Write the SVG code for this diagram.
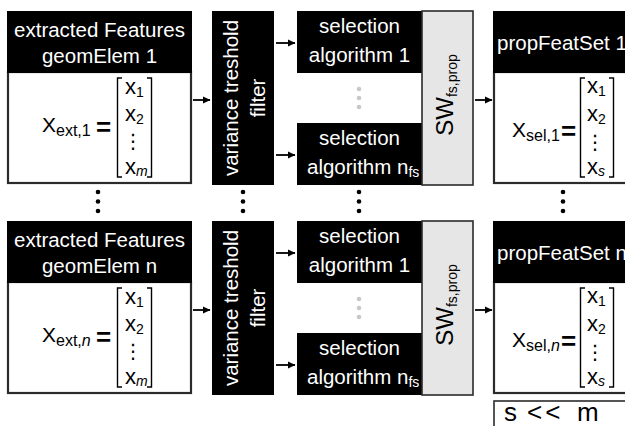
<svg xmlns="http://www.w3.org/2000/svg" width="625" height="426" viewBox="0 0 625 426">
  <defs>
    <marker id="ah" markerUnits="userSpaceOnUse" markerWidth="8" markerHeight="8" refX="7" refY="4" orient="auto">
      <path d="M0,0.6 L7.5,4 L0,7.4 z" fill="#000"/>
    </marker>
    <style>
      text { font-family: "Liberation Sans", Arial, sans-serif; }
      .hdr { fill: #000; }
      .body { fill: #fff; stroke: #2b2b2b; stroke-width: 2.2; }
      .sw { fill: #e6e6e6; stroke: #2b2b2b; stroke-width: 1.6; }
      .lbl { font-size: 20.5px; fill: #fff; }
      .mx { font-size: 21px; fill: #000; }
      .ent { font-size: 22px; fill: #000; }
      .sub { font-size: 16px; }
      .esub { font-size: 14px; }
      .eq { font-size: 26px; font-weight: bold; fill: #000; }
      .vd { font-family: "DejaVu Sans", sans-serif; font-size: 20px; fill: #000; }
      .brk { fill: none; stroke: #000; stroke-width: 1.4; }
      .dot { fill: #000; }
      .gdot { fill: #c8c8c8; }
      .conn line { stroke: #000; stroke-width: 1.8; marker-end: url(#ah); }
    </style>
  </defs>

  <rect width="625" height="426" fill="#fff"/>

  <!-- ===== upper chain ===== -->
  <g id="feat1">
    <rect class="body" x="8" y="72" width="183" height="111"/>
    <rect class="hdr" x="7" y="11" width="185" height="62"/>
    <text class="lbl" x="99.5" y="37" text-anchor="middle">extracted Features</text>
    <text class="lbl" x="99.5" y="63" text-anchor="middle">geomElem 1</text>
    <text class="mx" x="42" y="132">X<tspan class="sub" dy="4">ext,1</tspan></text>
    <text class="eq" x="96" y="136">=</text>
    <path class="brk" d="M122,78 H117.5 V177 H122 M147,78 H151.5 V177 H147"/>
    <text class="ent" x="125" y="94">x<tspan class="esub" dy="3">1</tspan></text>
    <text class="ent" x="125" y="121">x<tspan class="esub" dy="3">2</tspan></text>
    <text class="vd" x="133" y="148" text-anchor="middle">⋮</text>
    <text class="ent" x="125" y="174">x<tspan class="esub" dy="2" font-style="italic">m</tspan></text>
  </g>

  <g id="filter1">
    <rect class="hdr" x="212" y="11" width="62" height="174"/>
    <text class="lbl" transform="translate(238,98) rotate(-90)" text-anchor="middle">variance treshold</text>
    <text class="lbl" transform="translate(265,98) rotate(-90)" text-anchor="middle">filter</text>
  </g>

  <g id="sel1a">
    <rect class="hdr" x="297" y="11" width="125" height="62"/>
    <text class="lbl" x="359.5" y="33" text-anchor="middle">selection</text>
    <text class="lbl" x="359.5" y="62" text-anchor="middle">algorithm 1</text>
  </g>

  <g id="sel1b">
    <rect class="hdr" x="297" y="123" width="125" height="62"/>
    <text class="lbl" x="359.5" y="145" text-anchor="middle">selection</text>
    <text class="lbl" x="307" y="174">algorithm n<tspan class="esub" dy="3">fs</tspan></text>
  </g>

  <g id="sw1">
    <rect class="sw" x="422" y="11" width="51" height="174"/>
    <text transform="translate(453,95) rotate(-90)" text-anchor="middle" font-size="24" fill="#000">SW<tspan font-size="14" dy="4">fs,prop</tspan></text>
  </g>

  <g id="prop1">
    <rect class="body" x="494" y="72" width="150" height="111"/>
    <rect class="hdr" x="493" y="11" width="150" height="62"/>
    <text class="lbl" x="497" y="50">propFeatSet 1</text>
    <text class="mx" x="512" y="137">X<tspan class="sub" dy="4">sel,1</tspan></text>
    <text class="eq" x="561" y="140">=</text>
    <path class="brk" d="M585,78 H580.5 V177 H585 M609,78 H613.5 V177 H609"/>
    <text class="ent" x="587" y="93">x<tspan class="esub" dy="3">1</tspan></text>
    <text class="ent" x="587" y="121">x<tspan class="esub" dy="3">2</tspan></text>
    <text class="vd" x="595" y="149" text-anchor="middle">⋮</text>
    <text class="ent" x="587" y="174">x<tspan class="esub" dy="2" font-style="italic">s</tspan></text>
  </g>

  <!-- ===== lower chain ===== -->
  <g id="featN">
    <rect class="body" x="8" y="282" width="183" height="111"/>
    <rect class="hdr" x="7" y="221" width="185" height="62"/>
    <text class="lbl" x="99.5" y="247" text-anchor="middle">extracted Features</text>
    <text class="lbl" x="99.5" y="273" text-anchor="middle">geomElem n</text>
    <text class="mx" x="42" y="342">X<tspan class="sub" dy="4">ext,<tspan font-style="italic">n</tspan></tspan></text>
    <text class="eq" x="96" y="346">=</text>
    <path class="brk" d="M122,288 H117.5 V387 H122 M147,288 H151.5 V387 H147"/>
    <text class="ent" x="125" y="304">x<tspan class="esub" dy="3">1</tspan></text>
    <text class="ent" x="125" y="331">x<tspan class="esub" dy="3">2</tspan></text>
    <text class="vd" x="133" y="358" text-anchor="middle">⋮</text>
    <text class="ent" x="125" y="384">x<tspan class="esub" dy="2" font-style="italic">m</tspan></text>
  </g>

  <g id="filterN">
    <rect class="hdr" x="212" y="221" width="62" height="174"/>
    <text class="lbl" transform="translate(238,308) rotate(-90)" text-anchor="middle">variance treshold</text>
    <text class="lbl" transform="translate(265,308) rotate(-90)" text-anchor="middle">filter</text>
  </g>

  <g id="selNa">
    <rect class="hdr" x="297" y="221" width="125" height="62"/>
    <text class="lbl" x="359.5" y="243" text-anchor="middle">selection</text>
    <text class="lbl" x="359.5" y="272" text-anchor="middle">algorithm 1</text>
  </g>

  <g id="selNb">
    <rect class="hdr" x="297" y="333" width="125" height="62"/>
    <text class="lbl" x="359.5" y="355" text-anchor="middle">selection</text>
    <text class="lbl" x="307" y="384">algorithm n<tspan class="esub" dy="3">fs</tspan></text>
  </g>

  <g id="swN">
    <rect class="sw" x="422" y="221" width="51" height="174"/>
    <text transform="translate(453,305) rotate(-90)" text-anchor="middle" font-size="24" fill="#000">SW<tspan font-size="14" dy="4">fs,prop</tspan></text>
  </g>

  <g id="propN">
    <rect class="body" x="494" y="282" width="150" height="111"/>
    <rect class="hdr" x="493" y="221" width="150" height="62"/>
    <text class="lbl" x="497" y="260">propFeatSet n</text>
    <text class="mx" x="512" y="347">X<tspan class="sub" dy="4">sel,<tspan font-style="italic">n</tspan></tspan></text>
    <text class="eq" x="561" y="350">=</text>
    <path class="brk" d="M585,288 H580.5 V387 H585 M609,288 H613.5 V387 H609"/>
    <text class="ent" x="587" y="303">x<tspan class="esub" dy="3">1</tspan></text>
    <text class="ent" x="587" y="331">x<tspan class="esub" dy="3">2</tspan></text>
    <text class="vd" x="595" y="359" text-anchor="middle">⋮</text>
    <text class="ent" x="587" y="384">x<tspan class="esub" dy="2" font-style="italic">s</tspan></text>
  </g>

  <g id="ratio">
    <rect x="494" y="401" width="150" height="40" fill="#fff" stroke="#2b2b2b" stroke-width="1.6"/>
    <text y="421" font-size="26" fill="#000"><tspan x="504">s</tspan><tspan x="527" letter-spacing="3">&lt;&lt;</tspan><tspan x="577">m</tspan></text>
  </g>

  <!-- continuation marks between the two chains -->
  <g id="vdots">
    <circle class="dot" cx="98" cy="192" r="2.3"/><circle class="dot" cx="98" cy="201.5" r="2.3"/><circle class="dot" cx="98" cy="211" r="2.3"/>
    <circle class="dot" cx="243" cy="192" r="2.3"/><circle class="dot" cx="243" cy="201.5" r="2.3"/><circle class="dot" cx="243" cy="211" r="2.3"/>
    <circle class="dot" cx="359" cy="192" r="2.3"/><circle class="dot" cx="359" cy="201.5" r="2.3"/><circle class="dot" cx="359" cy="211" r="2.3"/>
    <circle class="dot" cx="563" cy="192" r="2.3"/><circle class="dot" cx="563" cy="201.5" r="2.3"/><circle class="dot" cx="563" cy="211" r="2.3"/>
    <circle class="gdot" cx="359" cy="89" r="2.3"/><circle class="gdot" cx="359" cy="98" r="2.3"/><circle class="gdot" cx="359" cy="107" r="2.3"/>
    <circle class="gdot" cx="359" cy="299" r="2.3"/><circle class="gdot" cx="359" cy="308" r="2.3"/><circle class="gdot" cx="359" cy="317" r="2.3"/>
  </g>

  <!-- connectors -->
  <g class="conn" id="connectors">
    <line x1="193" y1="100" x2="210" y2="100"/>
    <line x1="276" y1="43" x2="295" y2="43"/>
    <line x1="276" y1="155" x2="295" y2="155"/>
    <line x1="475" y1="100" x2="492" y2="100"/>
    <line x1="193" y1="310" x2="210" y2="310"/>
    <line x1="276" y1="253" x2="295" y2="253"/>
    <line x1="276" y1="365" x2="295" y2="365"/>
    <line x1="475" y1="310" x2="492" y2="310"/>
  </g>
</svg>
